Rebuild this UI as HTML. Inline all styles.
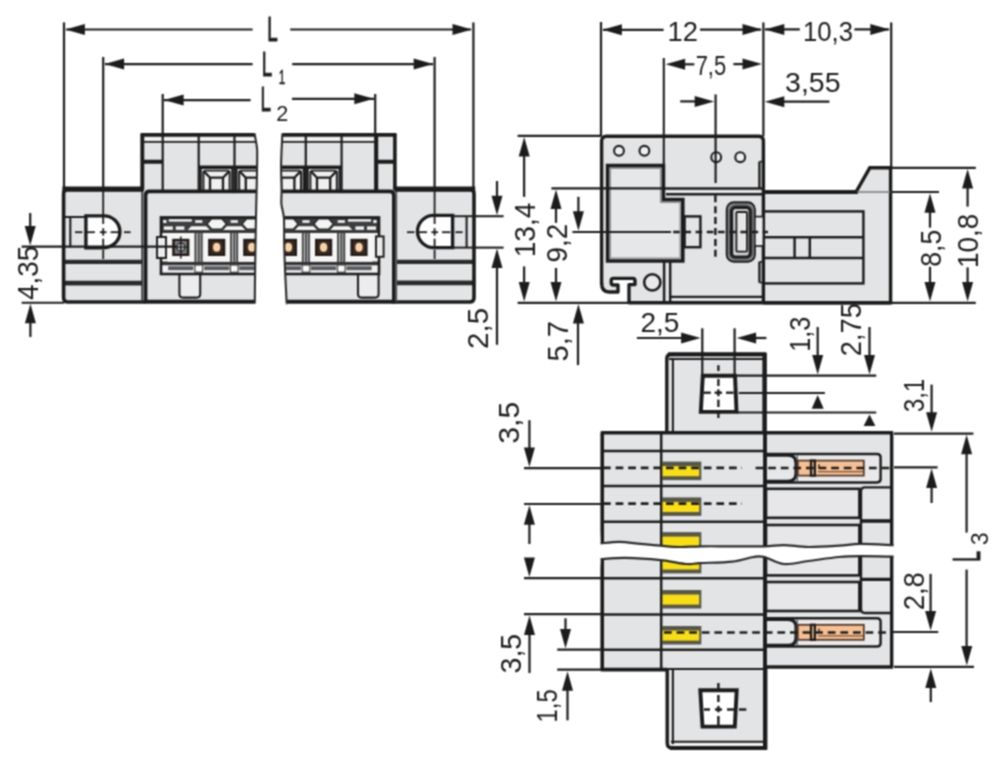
<!DOCTYPE html>
<html lang="en"><head><meta charset="utf-8"><title>Connector dimension drawing</title>
<style>html,body{margin:0;padding:0;background:#fff;}svg{display:block;}text{font-family:'Liberation Sans', 'DejaVu Sans', sans-serif;fill:#1c1c1c;}</style></head>
<body>
<svg width="1000" height="783" viewBox="0 0 1000 783">
<defs><filter id="soft" color-interpolation-filters="sRGB" x="0" y="0" width="1000" height="783" filterUnits="userSpaceOnUse"><feConvolveMatrix order="3" kernelMatrix="1 2 1 2 4 2 1 2 1" divisor="16" edgeMode="duplicate" preserveAlpha="true"/></filter></defs>
<rect x="0" y="0" width="1000" height="783" fill="#ffffff"/>
<g filter="url(#soft)">
<rect x="0" y="0" width="1000" height="783" fill="#ffffff"/>
<defs><clipPath id="c1l"><path d="M130 120 H254.6 L254.6 133.4 C255.4 140 257.4 146 257.2 152 C257.2 175 256.4 195 256 216 C255.6 240 255 265 254.8 303.4 V310 H130 Z"/></clipPath><clipPath id="c1r"><path d="M530 120 H282.4 L282.4 133.4 C282.18 138.5 281.23 154.57 281.1 164 C280.97 173.43 281.55 183.33 281.6 190 C281.65 196.67 281.02 199.33 281.4 204 C281.78 208.67 283.43 211.5 283.9 218 C284.37 224.5 284.02 234.5 284.2 243 C284.38 251.5 284.62 259.5 285 269 C285.38 278.5 286.23 294.27 286.5 300 C286.77 305.73 286.58 302.83 286.6 303.4 V310 H530 Z"/></clipPath></defs>
<rect x="63.6" y="189.4" width="82.4" height="112.6" rx="4" fill="#e3e4e6" stroke="none"/>
<rect x="392" y="189.4" width="82" height="112.6" rx="4" fill="#e3e4e6" stroke="none"/>
<g clip-path="url(#c1l)">
<rect x="143" y="136" width="127" height="56" rx="0" fill="#e3e4e6" stroke="none"/>
<rect x="146" y="191.5" width="124" height="110.3" rx="0" fill="#e3e4e6" stroke="none"/>
</g>
<g clip-path="url(#c1r)">
<rect x="270" y="136" width="125.3" height="56" rx="0" fill="#e3e4e6" stroke="none"/>
<rect x="270" y="191.5" width="122.6" height="110.3" rx="0" fill="#e3e4e6" stroke="none"/>
</g>
<line x1="65" y1="217" x2="86" y2="217" stroke="#1c1c1c" stroke-width="1.95" stroke-linecap="butt"/>
<line x1="70.3" y1="217" x2="70.3" y2="247.3" stroke="#1c1c1c" stroke-width="2.08" stroke-linecap="butt"/>
<path d="M85.9 215.9 H104 A15.9 15.9 0 0 1 104 247.7 H85.9 Z" fill="#fff" stroke="#1c1c1c" stroke-width="3.38" stroke-linejoin="miter" />
<line x1="65" y1="261.9" x2="142.6" y2="261.9" stroke="#2a2a2a" stroke-width="4.16" stroke-linecap="butt"/>
<line x1="65" y1="283.1" x2="142.6" y2="283.1" stroke="#2a2a2a" stroke-width="4.94" stroke-linecap="butt"/>
<path d="M142.4 189.4 H68 Q63.6 189.4 63.6 193.8 V297.8 Q63.6 302 68 302 H146" fill="none" stroke="#1c1c1c" stroke-width="3.64" stroke-linejoin="miter" />
<line x1="142.3" y1="190" x2="142.3" y2="302" stroke="#333" stroke-width="1.95" stroke-linecap="butt"/>
<line x1="62.4" y1="189.2" x2="143.6" y2="189.2" stroke="#1c1c1c" stroke-width="5.2" stroke-linecap="butt"/>
<line x1="75" y1="232.2" x2="82.4" y2="232.2" stroke="#1c1c1c" stroke-width="1.82" stroke-linecap="butt"/>
<line x1="85.7" y1="232.2" x2="94.9" y2="232.2" stroke="#1c1c1c" stroke-width="1.82" stroke-linecap="butt"/>
<line x1="99.9" y1="232.2" x2="106.5" y2="232.2" stroke="#1c1c1c" stroke-width="1.82" stroke-linecap="butt"/>
<line x1="110.6" y1="232.2" x2="119" y2="232.2" stroke="#1c1c1c" stroke-width="1.82" stroke-linecap="butt"/>
<line x1="124" y1="232.2" x2="130.6" y2="232.2" stroke="#1c1c1c" stroke-width="1.82" stroke-linecap="butt"/>
<line x1="103.2" y1="191" x2="103.2" y2="224" stroke="#1c1c1c" stroke-width="1.82" stroke-linecap="butt"/>
<line x1="103.2" y1="228.2" x2="103.2" y2="235.6" stroke="#1c1c1c" stroke-width="1.82" stroke-linecap="butt"/>
<line x1="103.2" y1="238.6" x2="103.2" y2="246.4" stroke="#1c1c1c" stroke-width="1.82" stroke-linecap="butt"/>
<line x1="103.2" y1="249.8" x2="103.2" y2="259" stroke="#1c1c1c" stroke-width="1.82" stroke-linecap="butt"/>
<line x1="452.6" y1="216.2" x2="473" y2="216.2" stroke="#1c1c1c" stroke-width="1.95" stroke-linecap="butt"/>
<line x1="452.6" y1="247.6" x2="473" y2="247.6" stroke="#1c1c1c" stroke-width="1.95" stroke-linecap="butt"/>
<line x1="466.6" y1="216.4" x2="466.6" y2="247.6" stroke="#1c1c1c" stroke-width="2.08" stroke-linecap="butt"/>
<path d="M452.6 215.4 H433.6 A16.1 16.1 0 0 0 433.6 247.6 H452.6 Z" fill="#fff" stroke="#1c1c1c" stroke-width="3.38" stroke-linejoin="miter" />
<line x1="396" y1="261.8" x2="473" y2="261.8" stroke="#2a2a2a" stroke-width="4.16" stroke-linecap="butt"/>
<line x1="396" y1="282.9" x2="473" y2="282.9" stroke="#2a2a2a" stroke-width="4.94" stroke-linecap="butt"/>
<path d="M396.4 189.4 H469.6 Q474 189.4 474 193.8 V297.8 Q474 302 469.6 302 H392" fill="none" stroke="#1c1c1c" stroke-width="3.64" stroke-linejoin="miter" />
<line x1="396.4" y1="190" x2="396.4" y2="302" stroke="#555" stroke-width="1.56" stroke-linecap="butt"/>
<line x1="394.4" y1="189.2" x2="475.2" y2="189.2" stroke="#1c1c1c" stroke-width="5.2" stroke-linecap="butt"/>
<line x1="407" y1="232.2" x2="414.4" y2="232.2" stroke="#1c1c1c" stroke-width="1.82" stroke-linecap="butt"/>
<line x1="417.6" y1="232.2" x2="427" y2="232.2" stroke="#1c1c1c" stroke-width="1.82" stroke-linecap="butt"/>
<line x1="431.4" y1="232.2" x2="438" y2="232.2" stroke="#1c1c1c" stroke-width="1.82" stroke-linecap="butt"/>
<line x1="442" y1="232.2" x2="450.4" y2="232.2" stroke="#1c1c1c" stroke-width="1.82" stroke-linecap="butt"/>
<line x1="455.4" y1="232.2" x2="462.6" y2="232.2" stroke="#1c1c1c" stroke-width="1.82" stroke-linecap="butt"/>
<line x1="434.6" y1="191" x2="434.6" y2="224" stroke="#1c1c1c" stroke-width="1.82" stroke-linecap="butt"/>
<line x1="434.6" y1="228.2" x2="434.6" y2="235.6" stroke="#1c1c1c" stroke-width="1.82" stroke-linecap="butt"/>
<line x1="434.6" y1="238.6" x2="434.6" y2="246.4" stroke="#1c1c1c" stroke-width="1.82" stroke-linecap="butt"/>
<line x1="434.6" y1="249.8" x2="434.6" y2="259" stroke="#1c1c1c" stroke-width="1.82" stroke-linecap="butt"/>
<g clip-path="url(#c1l)">
<rect x="143.6" y="136.4" width="116.4" height="4.8" rx="0" fill="#f0f0f1" stroke="none"/>
<line x1="140.8" y1="134.9" x2="260" y2="134.9" stroke="#1c1c1c" stroke-width="3.9" stroke-linecap="butt"/>
<line x1="143" y1="141.9" x2="260" y2="141.9" stroke="#1c1c1c" stroke-width="1.82" stroke-linecap="butt"/>
<line x1="142.3" y1="133.4" x2="142.3" y2="190" stroke="#1c1c1c" stroke-width="3.9" stroke-linecap="butt"/>
<line x1="143" y1="161.8" x2="162.7" y2="161.8" stroke="#1c1c1c" stroke-width="3.9" stroke-linecap="butt"/>
<line x1="162.7" y1="136" x2="162.7" y2="191" stroke="#1c1c1c" stroke-width="2.21" stroke-linecap="butt"/>
<line x1="198.7" y1="136" x2="198.7" y2="191" stroke="#1c1c1c" stroke-width="2.21" stroke-linecap="butt"/>
<line x1="234.5" y1="136" x2="234.5" y2="191" stroke="#1c1c1c" stroke-width="2.21" stroke-linecap="butt"/>
<rect x="200.6" y="167.3" width="31.8" height="26.7" rx="0" fill="#f0f0f1" stroke="none"/>
<line x1="198.7" y1="167.3" x2="234.5" y2="167.3" stroke="#1c1c1c" stroke-width="3.38" stroke-linecap="butt"/>
<line x1="200.6" y1="167.3" x2="200.6" y2="191" stroke="#1c1c1c" stroke-width="2.34" stroke-linecap="butt"/>
<line x1="232.4" y1="167.3" x2="232.4" y2="191" stroke="#1c1c1c" stroke-width="2.34" stroke-linecap="butt"/>
<path d="M203.4 191 V172.5 Q203.4 170.6 205.4 170.6 H227.6 Q229.6 170.6 229.6 172.5 V191" fill="none" stroke="#1c1c1c" stroke-width="1.95" stroke-linejoin="miter" />
<path d="M204.4 171.9 L210 177.7 H223 L228.6 171.9" fill="none" stroke="#1c1c1c" stroke-width="2.34" stroke-linejoin="miter" />
<line x1="210" y1="177.7" x2="210" y2="191" stroke="#1c1c1c" stroke-width="2.34" stroke-linecap="butt"/>
<line x1="223" y1="177.7" x2="223" y2="191" stroke="#1c1c1c" stroke-width="2.34" stroke-linecap="butt"/>
<rect x="236.4" y="167.3" width="31.8" height="26.7" rx="0" fill="#f0f0f1" stroke="none"/>
<line x1="234.5" y1="167.3" x2="270.3" y2="167.3" stroke="#1c1c1c" stroke-width="3.38" stroke-linecap="butt"/>
<line x1="236.4" y1="167.3" x2="236.4" y2="191" stroke="#1c1c1c" stroke-width="2.34" stroke-linecap="butt"/>
<line x1="268.2" y1="167.3" x2="268.2" y2="191" stroke="#1c1c1c" stroke-width="2.34" stroke-linecap="butt"/>
<path d="M239.2 191 V172.5 Q239.2 170.6 241.2 170.6 H263.4 Q265.4 170.6 265.4 172.5 V191" fill="none" stroke="#1c1c1c" stroke-width="1.95" stroke-linejoin="miter" />
<path d="M240.2 171.9 L245.8 177.7 H258.8 L264.4 171.9" fill="none" stroke="#1c1c1c" stroke-width="2.34" stroke-linejoin="miter" />
<line x1="245.8" y1="177.7" x2="245.8" y2="191" stroke="#1c1c1c" stroke-width="2.34" stroke-linecap="butt"/>
<line x1="258.8" y1="177.7" x2="258.8" y2="191" stroke="#1c1c1c" stroke-width="2.34" stroke-linecap="butt"/>
<path d="M260 191.4 H149.4 Q145.6 191.4 145.6 195.2 V301.8 H260" fill="none" stroke="#1c1c1c" stroke-width="3.64" stroke-linejoin="miter" />
<line x1="146" y1="301.6" x2="260" y2="301.6" stroke="#1c1c1c" stroke-width="3.64" stroke-linecap="butt"/>
<path d="M179.4 273 V294 Q179.4 297.6 183 297.6 H196.6 Q200.2 297.6 200.2 294 V273" fill="#ececee" stroke="#1c1c1c" stroke-width="2.08" stroke-linejoin="miter" />
</g>
<g clip-path="url(#c1l)">
<rect x="161" y="217.4" width="109" height="56.6" rx="0" fill="#f2f2f3" stroke="none"/>
<rect x="161" y="217.4" width="109" height="14.8" rx="0" fill="#3d3d3f" stroke="none"/>
<rect x="195.15" y="220.2" width="7.2" height="2.6" rx="0" fill="#f4f4f4" stroke="none"/>
<path d="M187.75 230 L191.25 226.2 H206.25 L209.75 230 Z" fill="#f4f4f4" stroke="none" />
<rect x="230.65" y="220.2" width="7.2" height="2.6" rx="0" fill="#f4f4f4" stroke="none"/>
<path d="M223.25 230 L226.75 226.2 H241.75 L245.25 230 Z" fill="#f4f4f4" stroke="none" />
<rect x="168.8" y="219.2" width="23" height="2.4" rx="0" fill="#f4f4f4" stroke="none"/>
<rect x="163.2" y="220" width="3.2" height="3" rx="0" fill="#f4f4f4" stroke="none"/>
<rect x="163.8" y="226.4" width="9" height="3.4" rx="0" fill="#f4f4f4" stroke="none"/>
<rect x="175.8" y="226.4" width="8.6" height="3.4" rx="0" fill="#f4f4f4" stroke="none"/>
<path d="M206.9 223.9 l4.8 -5.3 h10 l4.8 5.3 l-4.8 5.3 h-10 z" fill="#f4f4f4" stroke="#2a2a2a" stroke-width="1.56" stroke-linejoin="miter" />
<path d="M242 223.9 l4.8 -5.3 h10 l4.8 5.3 l-4.8 5.3 h-10 z" fill="#f4f4f4" stroke="#2a2a2a" stroke-width="1.56" stroke-linejoin="miter" />
<line x1="161" y1="263.4" x2="270" y2="263.4" stroke="#333" stroke-width="3.64" stroke-linecap="butt"/>
<rect x="168.2" y="266.2" width="25.2" height="4" rx="0" fill="#595c60" stroke="none"/>
<rect x="204.1" y="266.2" width="25.2" height="4" rx="0" fill="#595c60" stroke="none"/>
<rect x="239.2" y="266.2" width="25.2" height="4" rx="0" fill="#595c60" stroke="none"/>
<rect x="193.95" y="232.2" width="9.6" height="29.8" rx="0" fill="#c4c5c7" stroke="none"/>
<line x1="195.55" y1="232.2" x2="195.55" y2="262" stroke="#3a3a3a" stroke-width="1.69" stroke-linecap="butt"/>
<line x1="198.75" y1="232.2" x2="198.75" y2="262" stroke="#3a3a3a" stroke-width="1.69" stroke-linecap="butt"/>
<line x1="201.55" y1="232.2" x2="201.55" y2="262" stroke="#3a3a3a" stroke-width="1.69" stroke-linecap="butt"/>
<rect x="194.95" y="265" width="7.6" height="7.2" rx="0" fill="#fafafa" stroke="#444" stroke-width="1.17"/>
<rect x="229.45" y="232.2" width="9.6" height="29.8" rx="0" fill="#c4c5c7" stroke="none"/>
<line x1="231.05" y1="232.2" x2="231.05" y2="262" stroke="#3a3a3a" stroke-width="1.69" stroke-linecap="butt"/>
<line x1="234.25" y1="232.2" x2="234.25" y2="262" stroke="#3a3a3a" stroke-width="1.69" stroke-linecap="butt"/>
<line x1="237.05" y1="232.2" x2="237.05" y2="262" stroke="#3a3a3a" stroke-width="1.69" stroke-linecap="butt"/>
<rect x="230.45" y="265" width="7.6" height="7.2" rx="0" fill="#fafafa" stroke="#444" stroke-width="1.17"/>
<rect x="167.6" y="232.6" width="26.4" height="29.2" rx="0" fill="#f6f6f6" stroke="none"/>
<rect x="172.2" y="238.8" width="17.2" height="17.2" rx="0" fill="#241c18" stroke="none"/>
<rect x="174.8" y="241" width="12" height="12.6" rx="0" fill="#77777a" stroke="none"/>
<circle cx="180.8" cy="247.2" r="4" fill="#b9b9bb" stroke="#222" stroke-width="1.3"/>
<line x1="173.4" y1="247.2" x2="188.2" y2="247.2" stroke="#222" stroke-width="1.3" stroke-linecap="butt"/>
<line x1="180.8" y1="236.4" x2="180.8" y2="258.4" stroke="#222" stroke-width="1.56" stroke-linecap="butt"/>
<rect x="203.5" y="232.6" width="26.4" height="29.2" rx="0" fill="#f6f6f6" stroke="none"/>
<rect x="208.1" y="238.8" width="17.2" height="17.2" rx="0" fill="#241c18" stroke="none"/>
<rect x="210.7" y="241.2" width="12" height="12.4" rx="0" fill="#3b2a22" stroke="none"/>
<ellipse cx="216.7" cy="247.2" rx="3.7" ry="4.5" fill="#f8d3a8"/>
<rect x="238.6" y="232.6" width="26.4" height="29.2" rx="0" fill="#f6f6f6" stroke="none"/>
<rect x="243.2" y="238.8" width="17.2" height="17.2" rx="0" fill="#241c18" stroke="none"/>
<rect x="245.8" y="241.2" width="12" height="12.4" rx="0" fill="#3b2a22" stroke="none"/>
<ellipse cx="251.8" cy="247.2" rx="3.7" ry="4.5" fill="#f8d3a8"/>
<line x1="161" y1="232.4" x2="270" y2="232.4" stroke="#333" stroke-width="1.3" stroke-linecap="butt"/>
<rect x="161" y="217.4" width="109" height="56.6" rx="0" fill="none" stroke="#1c1c1c" stroke-width="2.6"/>
</g>
<rect x="157" y="237" width="9" height="21" rx="0" fill="#ececee" stroke="#1c1c1c" stroke-width="1.95"/>
<path d="M254.6 133.4 C255.4 140 257.4 146 257.2 152 C257.2 175 256.4 195 256 216 C255.6 240 255 265 254.8 303.4" fill="none" stroke="#2a2a2a" stroke-width="2.08" stroke-linejoin="miter" />
<g clip-path="url(#c1r)">
<rect x="270" y="136.4" width="107" height="4.8" rx="0" fill="#f0f0f1" stroke="none"/>
<line x1="270" y1="134.9" x2="396.3" y2="134.9" stroke="#1c1c1c" stroke-width="3.9" stroke-linecap="butt"/>
<line x1="270" y1="141.9" x2="377.1" y2="141.9" stroke="#1c1c1c" stroke-width="1.82" stroke-linecap="butt"/>
<line x1="394.9" y1="133.4" x2="394.9" y2="190" stroke="#1c1c1c" stroke-width="3.64" stroke-linecap="butt"/>
<line x1="377" y1="161.8" x2="395" y2="161.8" stroke="#1c1c1c" stroke-width="3.9" stroke-linecap="butt"/>
<line x1="377.1" y1="136" x2="377.1" y2="191" stroke="#1c1c1c" stroke-width="2.21" stroke-linecap="butt"/>
<line x1="341.6" y1="136" x2="341.6" y2="191" stroke="#1c1c1c" stroke-width="2.21" stroke-linecap="butt"/>
<line x1="305.8" y1="136" x2="305.8" y2="191" stroke="#1c1c1c" stroke-width="2.21" stroke-linecap="butt"/>
<rect x="307.6" y="167.3" width="32" height="26.7" rx="0" fill="#f0f0f1" stroke="none"/>
<line x1="305.8" y1="167.3" x2="341.6" y2="167.3" stroke="#1c1c1c" stroke-width="3.38" stroke-linecap="butt"/>
<line x1="307.6" y1="167.3" x2="307.6" y2="191" stroke="#1c1c1c" stroke-width="2.34" stroke-linecap="butt"/>
<line x1="339.6" y1="167.3" x2="339.6" y2="191" stroke="#1c1c1c" stroke-width="2.34" stroke-linecap="butt"/>
<path d="M310.4 191 V172.5 Q310.4 170.6 312.4 170.6 H334.8 Q336.8 170.6 336.8 172.5 V191" fill="none" stroke="#1c1c1c" stroke-width="1.95" stroke-linejoin="miter" />
<path d="M311.4 171.9 L317 177.7 H330.2 L335.8 171.9" fill="none" stroke="#1c1c1c" stroke-width="2.34" stroke-linejoin="miter" />
<line x1="317" y1="177.7" x2="317" y2="191" stroke="#1c1c1c" stroke-width="2.34" stroke-linecap="butt"/>
<line x1="330.2" y1="177.7" x2="330.2" y2="191" stroke="#1c1c1c" stroke-width="2.34" stroke-linecap="butt"/>
<rect x="271.8" y="167.3" width="32" height="26.7" rx="0" fill="#f0f0f1" stroke="none"/>
<line x1="270" y1="167.3" x2="305.8" y2="167.3" stroke="#1c1c1c" stroke-width="3.38" stroke-linecap="butt"/>
<line x1="271.8" y1="167.3" x2="271.8" y2="191" stroke="#1c1c1c" stroke-width="2.34" stroke-linecap="butt"/>
<line x1="303.8" y1="167.3" x2="303.8" y2="191" stroke="#1c1c1c" stroke-width="2.34" stroke-linecap="butt"/>
<path d="M274.6 191 V172.5 Q274.6 170.6 276.6 170.6 H299 Q301 170.6 301 172.5 V191" fill="none" stroke="#1c1c1c" stroke-width="1.95" stroke-linejoin="miter" />
<path d="M275.6 171.9 L281.2 177.7 H294.4 L300 171.9" fill="none" stroke="#1c1c1c" stroke-width="2.34" stroke-linejoin="miter" />
<line x1="281.2" y1="177.7" x2="281.2" y2="191" stroke="#1c1c1c" stroke-width="2.34" stroke-linecap="butt"/>
<line x1="294.4" y1="177.7" x2="294.4" y2="191" stroke="#1c1c1c" stroke-width="2.34" stroke-linecap="butt"/>
<path d="M270 191.4 H390 Q393.8 191.4 393.8 195.2 V301.8 H270" fill="none" stroke="#1c1c1c" stroke-width="3.64" stroke-linejoin="miter" />
<line x1="270" y1="301.6" x2="393" y2="301.6" stroke="#1c1c1c" stroke-width="3.64" stroke-linecap="butt"/>
<path d="M358 273 V294 Q358 297.6 361.6 297.6 H375 Q378.6 297.6 378.6 294 V273" fill="#ececee" stroke="#1c1c1c" stroke-width="2.08" stroke-linejoin="miter" />
</g>
<g clip-path="url(#c1r)">
<rect x="270" y="217.4" width="109" height="56.6" rx="0" fill="#f2f2f3" stroke="none"/>
<rect x="270" y="217.4" width="109" height="14.8" rx="0" fill="#3d3d3f" stroke="none"/>
<rect x="302.4" y="220.2" width="7.2" height="2.6" rx="0" fill="#f4f4f4" stroke="none"/>
<path d="M295 230 L298.5 226.2 H313.5 L317 230 Z" fill="#f4f4f4" stroke="none" />
<rect x="337.7" y="220.2" width="7.2" height="2.6" rx="0" fill="#f4f4f4" stroke="none"/>
<path d="M330.3 230 L333.8 226.2 H348.8 L352.3 230 Z" fill="#f4f4f4" stroke="none" />
<rect x="348" y="219.2" width="23" height="2.4" rx="0" fill="#f4f4f4" stroke="none"/>
<rect x="373.4" y="220" width="3.2" height="3" rx="0" fill="#f4f4f4" stroke="none"/>
<rect x="367" y="226.4" width="9" height="3.4" rx="0" fill="#f4f4f4" stroke="none"/>
<rect x="355.4" y="226.4" width="8.6" height="3.4" rx="0" fill="#f4f4f4" stroke="none"/>
<path d="M278.6 223.9 l4.8 -5.3 h10 l4.8 5.3 l-4.8 5.3 h-10 z" fill="#f4f4f4" stroke="#2a2a2a" stroke-width="1.56" stroke-linejoin="miter" />
<path d="M313.8 223.9 l4.8 -5.3 h10 l4.8 5.3 l-4.8 5.3 h-10 z" fill="#f4f4f4" stroke="#2a2a2a" stroke-width="1.56" stroke-linejoin="miter" />
<line x1="270" y1="263.4" x2="379" y2="263.4" stroke="#333" stroke-width="3.64" stroke-linecap="butt"/>
<rect x="275.8" y="266.2" width="25.2" height="4" rx="0" fill="#595c60" stroke="none"/>
<rect x="311" y="266.2" width="25.2" height="4" rx="0" fill="#595c60" stroke="none"/>
<rect x="346.4" y="266.2" width="25.2" height="4" rx="0" fill="#595c60" stroke="none"/>
<rect x="301.2" y="232.2" width="9.6" height="29.8" rx="0" fill="#c4c5c7" stroke="none"/>
<line x1="302.8" y1="232.2" x2="302.8" y2="262" stroke="#3a3a3a" stroke-width="1.69" stroke-linecap="butt"/>
<line x1="306" y1="232.2" x2="306" y2="262" stroke="#3a3a3a" stroke-width="1.69" stroke-linecap="butt"/>
<line x1="308.8" y1="232.2" x2="308.8" y2="262" stroke="#3a3a3a" stroke-width="1.69" stroke-linecap="butt"/>
<rect x="302.2" y="265" width="7.6" height="7.2" rx="0" fill="#fafafa" stroke="#444" stroke-width="1.17"/>
<rect x="336.5" y="232.2" width="9.6" height="29.8" rx="0" fill="#c4c5c7" stroke="none"/>
<line x1="338.1" y1="232.2" x2="338.1" y2="262" stroke="#3a3a3a" stroke-width="1.69" stroke-linecap="butt"/>
<line x1="341.3" y1="232.2" x2="341.3" y2="262" stroke="#3a3a3a" stroke-width="1.69" stroke-linecap="butt"/>
<line x1="344.1" y1="232.2" x2="344.1" y2="262" stroke="#3a3a3a" stroke-width="1.69" stroke-linecap="butt"/>
<rect x="337.5" y="265" width="7.6" height="7.2" rx="0" fill="#fafafa" stroke="#444" stroke-width="1.17"/>
<rect x="275.2" y="232.6" width="26.4" height="29.2" rx="0" fill="#f6f6f6" stroke="none"/>
<rect x="279.8" y="238.8" width="17.2" height="17.2" rx="0" fill="#241c18" stroke="none"/>
<rect x="282.4" y="241.2" width="12" height="12.4" rx="0" fill="#3b2a22" stroke="none"/>
<ellipse cx="288.4" cy="247.2" rx="3.7" ry="4.5" fill="#f8d3a8"/>
<rect x="310.4" y="232.6" width="26.4" height="29.2" rx="0" fill="#f6f6f6" stroke="none"/>
<rect x="315" y="238.8" width="17.2" height="17.2" rx="0" fill="#241c18" stroke="none"/>
<rect x="317.6" y="241.2" width="12" height="12.4" rx="0" fill="#3b2a22" stroke="none"/>
<ellipse cx="323.6" cy="247.2" rx="3.7" ry="4.5" fill="#f8d3a8"/>
<rect x="345.8" y="232.6" width="26.4" height="29.2" rx="0" fill="#f6f6f6" stroke="none"/>
<rect x="350.4" y="238.8" width="17.2" height="17.2" rx="0" fill="#241c18" stroke="none"/>
<rect x="353" y="241.2" width="12" height="12.4" rx="0" fill="#3b2a22" stroke="none"/>
<ellipse cx="359" cy="247.2" rx="3.7" ry="4.5" fill="#f8d3a8"/>
<line x1="270" y1="232.4" x2="379" y2="232.4" stroke="#333" stroke-width="1.3" stroke-linecap="butt"/>
<rect x="270" y="217.4" width="109" height="56.6" rx="0" fill="none" stroke="#1c1c1c" stroke-width="2.6"/>
</g>
<rect x="376" y="236.4" width="7.6" height="20.4" rx="0" fill="#ececee" stroke="#1c1c1c" stroke-width="1.95"/>
<path d="M282.4 133.4 C282.18 138.5 281.23 154.57 281.1 164 C280.97 173.43 281.55 183.33 281.6 190 C281.65 196.67 281.02 199.33 281.4 204 C281.78 208.67 283.43 211.5 283.9 218 C284.37 224.5 284.02 234.5 284.2 243 C284.38 251.5 284.62 259.5 285 269 C285.38 278.5 286.23 294.27 286.5 300 C286.77 305.73 286.58 302.83 286.6 303.4" fill="none" stroke="#2a2a2a" stroke-width="2.08" stroke-linejoin="miter" />
<line x1="64" y1="22.4" x2="64" y2="189" stroke="#1c1c1c" stroke-width="2.21" stroke-linecap="butt"/>
<line x1="473.4" y1="22.4" x2="473.4" y2="189" stroke="#1c1c1c" stroke-width="2.21" stroke-linecap="butt"/>
<line x1="66" y1="29.5" x2="252.6" y2="29.5" stroke="#1c1c1c" stroke-width="2.21" stroke-linecap="butt"/>
<line x1="290.2" y1="29.5" x2="471" y2="29.5" stroke="#1c1c1c" stroke-width="2.21" stroke-linecap="butt"/>
<polygon points="65.4,29.5 84.9,24 84.9,35" fill="#1c1c1c"/>
<polygon points="472,29.5 452.5,24 452.5,35" fill="#1c1c1c"/>
<line x1="103.2" y1="57" x2="103.2" y2="191" stroke="#1c1c1c" stroke-width="2.21" stroke-linecap="butt"/>
<line x1="434.6" y1="57" x2="434.6" y2="191" stroke="#1c1c1c" stroke-width="2.21" stroke-linecap="butt"/>
<line x1="105" y1="64.1" x2="252.6" y2="64.1" stroke="#1c1c1c" stroke-width="2.21" stroke-linecap="butt"/>
<line x1="292.2" y1="64.1" x2="433" y2="64.1" stroke="#1c1c1c" stroke-width="2.21" stroke-linecap="butt"/>
<polygon points="104.6,64.1 124.1,58.6 124.1,69.6" fill="#1c1c1c"/>
<polygon points="433.2,64.1 413.7,58.6 413.7,69.6" fill="#1c1c1c"/>
<line x1="162.7" y1="94" x2="162.7" y2="137" stroke="#1c1c1c" stroke-width="2.21" stroke-linecap="butt"/>
<line x1="375.2" y1="94" x2="375.2" y2="190" stroke="#1c1c1c" stroke-width="2.21" stroke-linecap="butt"/>
<line x1="164" y1="100.1" x2="250.6" y2="100.1" stroke="#1c1c1c" stroke-width="2.21" stroke-linecap="butt"/>
<line x1="292" y1="98.8" x2="374" y2="98.8" stroke="#1c1c1c" stroke-width="2.21" stroke-linecap="butt"/>
<polygon points="164.1,100.1 183.6,94.6 183.6,105.6" fill="#1c1c1c"/>
<polygon points="373.8,98.8 354.3,93.3 354.3,104.3" fill="#1c1c1c"/>
<text x="267.35" y="41.1" font-size="35.6" text-anchor="start" textLength="10.5" lengthAdjust="spacingAndGlyphs" stroke="#1c1c1c" stroke-width="0.9">L</text>
<text x="261.75" y="75.5" font-size="35.6" text-anchor="start" textLength="10.5" lengthAdjust="spacingAndGlyphs" stroke="#1c1c1c" stroke-width="0.9">L</text>
<text x="282" y="84" font-size="20.4" text-anchor="middle" textLength="6.6" lengthAdjust="spacingAndGlyphs" stroke="#1c1c1c" stroke-width="0.5">1</text>
<text x="260.45" y="111.2" font-size="35.6" text-anchor="start" textLength="10.5" lengthAdjust="spacingAndGlyphs" stroke="#1c1c1c" stroke-width="0.9">L</text>
<text x="282.2" y="120.8" font-size="22.4" text-anchor="middle" textLength="12" lengthAdjust="spacingAndGlyphs">2</text>
<line x1="21.6" y1="246.6" x2="176" y2="246.6" stroke="#1c1c1c" stroke-width="2.08" stroke-linecap="butt"/>
<line x1="21.6" y1="302.8" x2="64" y2="302.8" stroke="#1c1c1c" stroke-width="2.08" stroke-linecap="butt"/>
<line x1="30.2" y1="213" x2="30.2" y2="232" stroke="#1c1c1c" stroke-width="2.21" stroke-linecap="butt"/>
<polygon points="30.2,245.4 24.7,225.9 35.7,225.9" fill="#1c1c1c"/>
<line x1="30.4" y1="318" x2="30.4" y2="337" stroke="#1c1c1c" stroke-width="2.21" stroke-linecap="butt"/>
<polygon points="30.4,303.8 24.9,323.3 35.9,323.3" fill="#1c1c1c"/>
<text x="38.2" y="272.9" font-size="30" text-anchor="middle" transform="rotate(-90 38.2 272.9)" textLength="54.3" lengthAdjust="spacingAndGlyphs">4,35</text>
<line x1="474.6" y1="216.2" x2="503.6" y2="216.2" stroke="#1c1c1c" stroke-width="2.08" stroke-linecap="butt"/>
<line x1="474.6" y1="247.6" x2="503.6" y2="247.6" stroke="#1c1c1c" stroke-width="2.08" stroke-linecap="butt"/>
<line x1="497" y1="181" x2="497" y2="200" stroke="#1c1c1c" stroke-width="2.21" stroke-linecap="butt"/>
<polygon points="497,215.2 491.5,195.7 502.5,195.7" fill="#1c1c1c"/>
<line x1="497" y1="262" x2="497" y2="344.8" stroke="#1c1c1c" stroke-width="2.21" stroke-linecap="butt"/>
<polygon points="497,248.6 491.5,268.1 502.5,268.1" fill="#1c1c1c"/>
<text x="487.9" y="328.4" font-size="30" text-anchor="middle" transform="rotate(-90 487.9 328.4)" textLength="41" lengthAdjust="spacingAndGlyphs">2,5</text>
<path d="M601.6 141.2 Q601.6 136.2 606.6 136.2 H758.4 Q763.4 136.2 763.4 141.2 V192 H856 L869.8 167.8 H890.6 V302.8 H629 V284.6 H635 V278.4 H611.2 V285 H618 V292 H608.6 Q601.6 292 601.6 284 Z" fill="#e3e4e6" stroke="none" />
<path d="M763.4 192 H856 L869.8 167.8 H890.6 V302.8 H763.4" fill="none" stroke="#1c1c1c" stroke-width="3.38" stroke-linejoin="miter" />
<line x1="763.4" y1="192" x2="858" y2="192" stroke="#1c1c1c" stroke-width="3.9" stroke-linecap="butt"/>
<line x1="857" y1="192" x2="890.6" y2="192" stroke="#777" stroke-width="1.3" stroke-linecap="butt"/>
<rect x="763.4" y="211.4" width="100" height="72" rx="0" fill="none" stroke="#1c1c1c" stroke-width="2.47"/>
<line x1="763.4" y1="237.2" x2="863.4" y2="237.2" stroke="#1c1c1c" stroke-width="2.47" stroke-linecap="butt"/>
<line x1="763.4" y1="257.9" x2="863.4" y2="257.9" stroke="#1c1c1c" stroke-width="2.47" stroke-linecap="butt"/>
<line x1="794.6" y1="237.2" x2="794.6" y2="257.9" stroke="#1c1c1c" stroke-width="2.47" stroke-linecap="butt"/>
<line x1="809.8" y1="237.2" x2="809.8" y2="257.9" stroke="#1c1c1c" stroke-width="2.47" stroke-linecap="butt"/>
<path d="M601.6 284 V141.2 Q601.6 136.2 606.6 136.2 H758.4 Q763.4 136.2 763.4 141.2 V302.8" fill="none" stroke="#1c1c1c" stroke-width="3.38" stroke-linejoin="miter" />
<path d="M601.6 283 Q601.6 292 609 292 H618 V285 H613.4 Q611.2 285 611.2 282.8 V280.6 Q611.2 278.4 613.4 278.4 H632.8 Q635 278.4 635 280.6 V284.6 H629 V302.8 H890.6" fill="none" stroke="#1c1c1c" stroke-width="3.38" stroke-linejoin="round" />
<line x1="663.6" y1="188.6" x2="763.4" y2="188.6" stroke="#1c1c1c" stroke-width="2.47" stroke-linecap="butt"/>
<line x1="666" y1="194.2" x2="763.4" y2="194.2" stroke="#1c1c1c" stroke-width="2.47" stroke-linecap="butt"/>
<path d="M607.6 165.6 H663.4 V199.6 H682.8 V261 H607.6 Z" fill="#e6e7e9" stroke="#1c1c1c" stroke-width="3.64" stroke-linejoin="miter" />
<path d="M610.4 168.4 H660.6 V202.4 H680 V258.2 H610.4 Z" fill="none" stroke="#8a8a8c" stroke-width="1.17" stroke-linejoin="miter" />
<circle cx="619" cy="150.8" r="4.9" fill="#f0f0f2" stroke="#1c1c1c" stroke-width="2.08"/>
<circle cx="644.4" cy="150.8" r="4.9" fill="#f0f0f2" stroke="#1c1c1c" stroke-width="2.08"/>
<circle cx="716.2" cy="157.2" r="4.9" fill="#f0f0f2" stroke="#1c1c1c" stroke-width="2.08"/>
<circle cx="740.2" cy="157.2" r="4.9" fill="#f0f0f2" stroke="#1c1c1c" stroke-width="2.08"/>
<circle cx="652.3" cy="282.4" r="8.1" fill="#e9e9eb" stroke="#1c1c1c" stroke-width="2.6"/>
<rect x="684.6" y="216.4" width="15.8" height="30.8" rx="0" fill="none" stroke="#1c1c1c" stroke-width="2.47"/>
<line x1="664.1" y1="261" x2="664.1" y2="302.8" stroke="#1c1c1c" stroke-width="2.47" stroke-linecap="butt"/>
<line x1="670.2" y1="261" x2="670.2" y2="302.8" stroke="#1c1c1c" stroke-width="2.47" stroke-linecap="butt"/>
<line x1="670" y1="296.8" x2="763.4" y2="296.8" stroke="#1c1c1c" stroke-width="2.34" stroke-linecap="butt"/>
<line x1="759.4" y1="161.6" x2="759.4" y2="188" stroke="#1c1c1c" stroke-width="2.34" stroke-linecap="butt"/>
<line x1="759.4" y1="161.6" x2="763.4" y2="161.6" stroke="#1c1c1c" stroke-width="1.56" stroke-linecap="butt"/>
<line x1="759.4" y1="261.8" x2="759.4" y2="282.6" stroke="#1c1c1c" stroke-width="2.34" stroke-linecap="butt"/>
<line x1="759.4" y1="261.8" x2="763.4" y2="261.8" stroke="#1c1c1c" stroke-width="1.56" stroke-linecap="butt"/>
<line x1="759.4" y1="282.6" x2="763.4" y2="282.6" stroke="#1c1c1c" stroke-width="1.56" stroke-linecap="butt"/>
<rect x="726.8" y="202.4" width="28" height="59.2" rx="7" fill="#b4b5b7" stroke="#1c1c1c" stroke-width="2.08"/>
<rect x="729.2" y="204.8" width="23.2" height="54.4" rx="5.5" fill="#a6a7aa" stroke="#555" stroke-width="1.3"/>
<rect x="731.6" y="207.4" width="18.6" height="49.6" rx="3.6" fill="#cfd0d2" stroke="#1c1c1c" stroke-width="3.12"/>
<rect x="736.4" y="212" width="10.6" height="39.6" rx="1" fill="#e6e6e8" stroke="#1c1c1c" stroke-width="1.82"/>
<rect x="754.8" y="216.6" width="8.6" height="29.4" rx="0" fill="#ececee" stroke="#1c1c1c" stroke-width="1.69"/>
<line x1="715.6" y1="94.4" x2="715.6" y2="183" stroke="#1c1c1c" stroke-width="2.21" stroke-linecap="butt"/>
<line x1="715.4" y1="195.3" x2="715.4" y2="258" stroke="#1c1c1c" stroke-width="2.47" stroke-linecap="butt" stroke-dasharray="7 3.9"/>
<line x1="572.4" y1="232" x2="671" y2="232" stroke="#1c1c1c" stroke-width="2.21" stroke-linecap="butt"/>
<line x1="673.2" y1="232" x2="768" y2="232" stroke="#1c1c1c" stroke-width="2.47" stroke-linecap="butt" stroke-dasharray="6.6 4.6"/>
<line x1="663.8" y1="58" x2="663.8" y2="199" stroke="#1c1c1c" stroke-width="2.08" stroke-linecap="butt"/>
<line x1="601" y1="22" x2="601" y2="136.2" stroke="#1c1c1c" stroke-width="2.21" stroke-linecap="butt"/>
<line x1="763.4" y1="22.4" x2="763.4" y2="136.2" stroke="#1c1c1c" stroke-width="2.21" stroke-linecap="butt"/>
<line x1="603" y1="29.8" x2="663.6" y2="29.8" stroke="#1c1c1c" stroke-width="2.21" stroke-linecap="butt"/>
<line x1="700" y1="29.6" x2="761" y2="29.6" stroke="#1c1c1c" stroke-width="2.21" stroke-linecap="butt"/>
<polygon points="602.4,29.8 621.9,24.3 621.9,35.3" fill="#1c1c1c"/>
<polygon points="762,29.6 742.5,24.1 742.5,35.1" fill="#1c1c1c"/>
<text x="682.8" y="41.3" font-size="28.5" text-anchor="middle" textLength="30.5" lengthAdjust="spacingAndGlyphs">12</text>
<line x1="891.2" y1="22.4" x2="891.2" y2="168" stroke="#1c1c1c" stroke-width="2.21" stroke-linecap="butt"/>
<line x1="765" y1="29.4" x2="799.8" y2="29.4" stroke="#1c1c1c" stroke-width="2.21" stroke-linecap="butt"/>
<line x1="854.4" y1="29.4" x2="889" y2="29.4" stroke="#1c1c1c" stroke-width="2.21" stroke-linecap="butt"/>
<polygon points="764.8,29.4 784.3,23.9 784.3,34.9" fill="#1c1c1c"/>
<polygon points="889.8,29.4 870.3,23.9 870.3,34.9" fill="#1c1c1c"/>
<text x="828" y="40.6" font-size="28.5" text-anchor="middle" textLength="50" lengthAdjust="spacingAndGlyphs">10,3</text>
<line x1="683" y1="64.3" x2="694.3" y2="64.3" stroke="#1c1c1c" stroke-width="2.21" stroke-linecap="butt"/>
<line x1="733.4" y1="64.1" x2="745" y2="64.1" stroke="#1c1c1c" stroke-width="2.21" stroke-linecap="butt"/>
<polygon points="665.6,64.3 685.1,58.8 685.1,69.8" fill="#1c1c1c"/>
<polygon points="762,64.1 742.5,58.6 742.5,69.6" fill="#1c1c1c"/>
<text x="710.9" y="75" font-size="28.5" text-anchor="middle" textLength="30.5" lengthAdjust="spacingAndGlyphs">7,5</text>
<line x1="680.2" y1="101.4" x2="698" y2="101.4" stroke="#1c1c1c" stroke-width="2.21" stroke-linecap="butt"/>
<polygon points="714.2,101.4 694.7,95.9 694.7,106.9" fill="#1c1c1c"/>
<line x1="782" y1="101.7" x2="829.4" y2="101.7" stroke="#1c1c1c" stroke-width="2.21" stroke-linecap="butt"/>
<polygon points="764.8,101.7 784.3,96.2 784.3,107.2" fill="#1c1c1c"/>
<text x="812.8" y="92.2" font-size="28" text-anchor="middle" textLength="55.5" lengthAdjust="spacingAndGlyphs">3,55</text>
<line x1="517.6" y1="135.8" x2="601" y2="135.8" stroke="#1c1c1c" stroke-width="2.21" stroke-linecap="butt"/>
<line x1="517.6" y1="302.8" x2="629.4" y2="302.8" stroke="#1c1c1c" stroke-width="2.21" stroke-linecap="butt"/>
<line x1="551.4" y1="188.3" x2="663" y2="188.3" stroke="#1c1c1c" stroke-width="2.21" stroke-linecap="butt"/>
<line x1="524.1" y1="153" x2="524.1" y2="196.9" stroke="#1c1c1c" stroke-width="2.21" stroke-linecap="butt"/>
<polygon points="524.2,137 518.7,156.5 529.7,156.5" fill="#1c1c1c"/>
<line x1="524.1" y1="266.4" x2="524.1" y2="285" stroke="#1c1c1c" stroke-width="2.21" stroke-linecap="butt"/>
<polygon points="524.2,301.6 518.7,282.1 529.7,282.1" fill="#1c1c1c"/>
<text x="535" y="229.9" font-size="30" text-anchor="middle" transform="rotate(-90 535 229.9)" textLength="54.7" lengthAdjust="spacingAndGlyphs">13,4</text>
<line x1="556" y1="206" x2="556" y2="222.8" stroke="#1c1c1c" stroke-width="2.21" stroke-linecap="butt"/>
<polygon points="556,189.4 550.5,208.9 561.5,208.9" fill="#1c1c1c"/>
<line x1="556" y1="268" x2="556" y2="285" stroke="#1c1c1c" stroke-width="2.21" stroke-linecap="butt"/>
<polygon points="556,301.6 550.5,282.1 561.5,282.1" fill="#1c1c1c"/>
<text x="566.7" y="243.2" font-size="30" text-anchor="middle" transform="rotate(-90 566.7 243.2)" textLength="38.8" lengthAdjust="spacingAndGlyphs">9,2</text>
<line x1="578.4" y1="196.8" x2="578.4" y2="214" stroke="#1c1c1c" stroke-width="2.21" stroke-linecap="butt"/>
<polygon points="578.4,230.8 572.9,211.3 583.9,211.3" fill="#1c1c1c"/>
<line x1="578" y1="320" x2="578" y2="365.1" stroke="#1c1c1c" stroke-width="2.21" stroke-linecap="butt"/>
<polygon points="578.4,304 572.9,323.5 583.9,323.5" fill="#1c1c1c"/>
<text x="568.4" y="341.3" font-size="30" text-anchor="middle" transform="rotate(-90 568.4 341.3)" textLength="40.3" lengthAdjust="spacingAndGlyphs">5,7</text>
<line x1="890.6" y1="167.8" x2="975.8" y2="167.8" stroke="#1c1c1c" stroke-width="2.21" stroke-linecap="butt"/>
<line x1="890.6" y1="192" x2="939" y2="192" stroke="#1c1c1c" stroke-width="2.21" stroke-linecap="butt"/>
<line x1="890.6" y1="302.8" x2="975.8" y2="302.8" stroke="#1c1c1c" stroke-width="2.21" stroke-linecap="butt"/>
<line x1="930" y1="209" x2="930" y2="227.6" stroke="#1c1c1c" stroke-width="2.21" stroke-linecap="butt"/>
<polygon points="930,193.2 924.5,212.7 935.5,212.7" fill="#1c1c1c"/>
<line x1="930" y1="266.8" x2="930" y2="285" stroke="#1c1c1c" stroke-width="2.21" stroke-linecap="butt"/>
<polygon points="930,301.6 924.5,282.1 935.5,282.1" fill="#1c1c1c"/>
<text x="941.2" y="248.2" font-size="30" text-anchor="middle" transform="rotate(-90 941.2 248.2)" textLength="37" lengthAdjust="spacingAndGlyphs">8,5</text>
<line x1="967.6" y1="185" x2="967.6" y2="206.6" stroke="#1c1c1c" stroke-width="2.21" stroke-linecap="butt"/>
<polygon points="967.6,169 962.1,188.5 973.1,188.5" fill="#1c1c1c"/>
<line x1="967.6" y1="267.4" x2="967.6" y2="285" stroke="#1c1c1c" stroke-width="2.21" stroke-linecap="butt"/>
<polygon points="967.6,301.6 962.1,282.1 973.1,282.1" fill="#1c1c1c"/>
<text x="978.2" y="240.8" font-size="30" text-anchor="middle" transform="rotate(-90 978.2 240.8)" textLength="54.2" lengthAdjust="spacingAndGlyphs">10,8</text>
<defs><clipPath id="c3t"><path d="M600.6 543.4 C603.73 543.13 612.72 541.72 619.4 541.8 C626.08 541.88 633.83 543.25 640.7 543.9 C647.57 544.55 653.98 545.18 660.6 545.7 C667.22 546.22 673.8 546.9 680.4 547 C687 547.1 691.57 546.42 700.2 546.3 C708.83 546.18 721.52 546.3 732.2 546.3 C742.88 546.3 755.67 546.5 764.3 546.3 C772.93 546.1 776.63 544.98 784 545.1 C791.37 545.22 799.33 546.9 808.5 547 C817.67 547.1 830.37 546.22 839 545.7 C847.63 545.18 851.2 544 860.3 543.9 C869.4 543.8 888.05 544.9 893.6 545.1 V300 H590 Z"/></clipPath><clipPath id="c3b"><path d="M600.6 559.2 C604.75 558.98 615.5 557.75 625.5 557.9 C635.5 558.05 650.43 559.08 660.6 560.1 C670.77 561.12 679.9 563.5 686.5 564 C693.1 564.5 692.58 563.5 700.2 563.1 C707.82 562.7 723.3 562.62 732.2 561.6 C741.1 560.58 748.25 557.77 753.6 557 C758.95 556.23 759.23 555.83 764.3 557 C769.37 558.17 776.63 563.33 784 564 C791.37 564.67 799.33 562.17 808.5 561 C817.67 559.83 830.37 557.82 839 557 C847.63 556.18 851.2 556.15 860.3 556.1 C869.4 556.05 888.05 556.6 893.6 556.7 V720 H590 Z"/></clipPath></defs>
<rect x="666.8" y="354.4" width="98" height="79.6" rx="4" fill="#e3e4e6" stroke="none"/>
<rect x="674" y="355.8" width="89" height="2.6" rx="0" fill="#f1f1f2" stroke="none"/>
<path d="M666.8 433 V358.4 Q666.8 354.4 670.8 354.4 H764.6 V433" fill="none" stroke="#1c1c1c" stroke-width="3.38" stroke-linejoin="miter" />
<line x1="668" y1="354.4" x2="766.2" y2="354.4" stroke="#1c1c1c" stroke-width="4.42" stroke-linecap="butt"/>
<line x1="764.6" y1="353" x2="764.6" y2="433" stroke="#1c1c1c" stroke-width="4.42" stroke-linecap="butt"/>
<line x1="672.9" y1="359" x2="672.9" y2="433" stroke="#1c1c1c" stroke-width="2.08" stroke-linecap="butt"/>
<line x1="669" y1="359" x2="764" y2="359" stroke="#1c1c1c" stroke-width="2.08" stroke-linecap="butt"/>
<path d="M702.8 375.8 H735 L736.5 411.9 H700.8 Z" fill="#fff" stroke="#1c1c1c" stroke-width="3.9" stroke-linejoin="miter" />
<rect x="667.2" y="668" width="97.8" height="80" rx="4" fill="#e3e4e6" stroke="none"/>
<rect x="674" y="742.6" width="89.6" height="4.2" rx="0" fill="#f1f1f2" stroke="none"/>
<path d="M667.2 668 V743 Q667.2 748 672.2 748 H765.2 V666" fill="none" stroke="#1c1c1c" stroke-width="3.38" stroke-linejoin="miter" />
<line x1="765.2" y1="666" x2="765.2" y2="749.6" stroke="#1c1c1c" stroke-width="4.42" stroke-linecap="butt"/>
<line x1="670" y1="748" x2="766.8" y2="748" stroke="#1c1c1c" stroke-width="4.16" stroke-linecap="butt"/>
<line x1="672.9" y1="668" x2="672.9" y2="744" stroke="#1c1c1c" stroke-width="2.08" stroke-linecap="butt"/>
<line x1="671" y1="741.7" x2="764" y2="741.7" stroke="#1c1c1c" stroke-width="2.08" stroke-linecap="butt"/>
<path d="M700.3 690.3 H736.7 L734.8 726.6 H702.5 Z" fill="#fff" stroke="#1c1c1c" stroke-width="3.9" stroke-linejoin="miter" />
<g clip-path="url(#c3t)">
<rect x="602.2" y="432.8" width="289.6" height="127.2" rx="0" fill="#e3e4e6" stroke="none"/>
<line x1="602.2" y1="450.9" x2="765" y2="450.9" stroke="#1c1c1c" stroke-width="2.47" stroke-linecap="butt"/>
<line x1="602.2" y1="486" x2="765" y2="486" stroke="#1c1c1c" stroke-width="2.47" stroke-linecap="butt"/>
<line x1="602.2" y1="521.8" x2="765" y2="521.8" stroke="#1c1c1c" stroke-width="2.47" stroke-linecap="butt"/>
<line x1="661.2" y1="432.8" x2="661.2" y2="560" stroke="#1c1c1c" stroke-width="2.47" stroke-linecap="butt"/>
<rect x="661.9" y="461.6" width="39.4" height="18.5" rx="0" fill="#56564e" stroke="none"/>
<rect x="662.6" y="466.1" width="36.6" height="10.1" rx="0" fill="#f8de12" stroke="none"/>
<rect x="661.9" y="497.4" width="39.4" height="18.5" rx="0" fill="#56564e" stroke="none"/>
<rect x="662.6" y="501.9" width="36.6" height="10.1" rx="0" fill="#f8de12" stroke="none"/>
<rect x="661.9" y="532.1" width="39.4" height="18.5" rx="0" fill="#56564e" stroke="none"/>
<rect x="662.6" y="536.6" width="36.6" height="10.1" rx="0" fill="#f8de12" stroke="none"/>
<path d="M765.4 454 H877 Q880.6 454 880.6 457.6 V478.8 Q880.6 482.4 877 482.4 H765.4" fill="#e9e9eb" stroke="#1c1c1c" stroke-width="2.47" stroke-linejoin="miter" />
<path d="M765.4 455.2 H788 Q796 455.2 796 463.2 V473.2 Q796 481.2 788 481.2 H765.4" fill="#e6e7e9" stroke="#1c1c1c" stroke-width="3.12" stroke-linejoin="miter" />
<line x1="797.2" y1="454.6" x2="797.2" y2="481.8" stroke="#456" stroke-width="1.3" stroke-linecap="butt"/>
<rect x="797.8" y="460.6" width="66" height="15" rx="0" fill="#f6c094" stroke="#4a3424" stroke-width="1.69"/>
<rect x="811" y="460.6" width="3.8" height="15" rx="0" fill="#e9c8a6" stroke="#1f1a16" stroke-width="2.34"/>
<line x1="818" y1="471.6" x2="863" y2="471.6" stroke="#7a5030" stroke-width="1.3" stroke-linecap="butt"/>
<line x1="819" y1="464.2" x2="819" y2="468.2" stroke="#4a3424" stroke-width="1.56" stroke-linecap="butt"/>
<rect x="766" y="488.8" width="93.4" height="29" rx="0" fill="#e7e7e9" stroke="#1c1c1c" stroke-width="2.6"/>
<rect x="766" y="525" width="93.4" height="28" rx="0" fill="#e7e7e9" stroke="#1c1c1c" stroke-width="2.6"/>
<path d="M891 487.4 H865 Q861 487.4 861 491.4 V521 H891" fill="#e6e7e9" stroke="#1c1c1c" stroke-width="2.34" stroke-linejoin="miter" />
<line x1="861" y1="521" x2="891" y2="521" stroke="#1c1c1c" stroke-width="3.38" stroke-linecap="butt"/>
<line x1="861" y1="521" x2="861" y2="560" stroke="#1c1c1c" stroke-width="2.34" stroke-linecap="butt"/>
<line x1="765" y1="432.8" x2="765" y2="560" stroke="#1c1c1c" stroke-width="3.9" stroke-linecap="butt"/>
<line x1="602.2" y1="432.8" x2="602.2" y2="560" stroke="#1c1c1c" stroke-width="3.64" stroke-linecap="butt"/>
<line x1="891.8" y1="432.8" x2="891.8" y2="560" stroke="#1c1c1c" stroke-width="3.64" stroke-linecap="butt"/>
<line x1="600.8" y1="432.8" x2="893.2" y2="432.8" stroke="#1c1c1c" stroke-width="3.64" stroke-linecap="butt"/>
</g>
<path d="M600.6 543.4 C603.73 543.13 612.72 541.72 619.4 541.8 C626.08 541.88 633.83 543.25 640.7 543.9 C647.57 544.55 653.98 545.18 660.6 545.7 C667.22 546.22 673.8 546.9 680.4 547 C687 547.1 691.57 546.42 700.2 546.3 C708.83 546.18 721.52 546.3 732.2 546.3 C742.88 546.3 755.67 546.5 764.3 546.3 C772.93 546.1 776.63 544.98 784 545.1 C791.37 545.22 799.33 546.9 808.5 547 C817.67 547.1 830.37 546.22 839 545.7 C847.63 545.18 851.2 544 860.3 543.9 C869.4 543.8 888.05 544.9 893.6 545.1" fill="none" stroke="#2a2a2a" stroke-width="2.21" stroke-linejoin="miter" />
<g clip-path="url(#c3b)">
<rect x="602.2" y="540" width="162.8" height="129.6" rx="0" fill="#e3e4e6" stroke="none"/>
<rect x="765" y="540" width="126.8" height="127" rx="0" fill="#e3e4e6" stroke="none"/>
<line x1="602.2" y1="578.2" x2="765" y2="578.2" stroke="#1c1c1c" stroke-width="2.47" stroke-linecap="butt"/>
<line x1="602.2" y1="614.5" x2="765" y2="614.5" stroke="#1c1c1c" stroke-width="2.47" stroke-linecap="butt"/>
<line x1="602.2" y1="649.8" x2="765" y2="649.8" stroke="#1c1c1c" stroke-width="2.47" stroke-linecap="butt"/>
<line x1="661.2" y1="540" x2="661.2" y2="669.6" stroke="#1c1c1c" stroke-width="2.47" stroke-linecap="butt"/>
<rect x="661.9" y="554.9" width="39.4" height="18.5" rx="0" fill="#56564e" stroke="none"/>
<rect x="662.6" y="559.4" width="36.6" height="10.1" rx="0" fill="#f8de12" stroke="none"/>
<rect x="661.9" y="590" width="39.4" height="18.5" rx="0" fill="#56564e" stroke="none"/>
<rect x="662.6" y="594.5" width="36.6" height="10.1" rx="0" fill="#f8de12" stroke="none"/>
<rect x="661.9" y="626" width="39.4" height="18.5" rx="0" fill="#56564e" stroke="none"/>
<rect x="662.6" y="630.5" width="36.6" height="10.1" rx="0" fill="#f8de12" stroke="none"/>
<path d="M765.4 618.2 H877 Q880.6 618.2 880.6 621.8 V643 Q880.6 646.6 877 646.6 H765.4" fill="#e9e9eb" stroke="#1c1c1c" stroke-width="2.47" stroke-linejoin="miter" />
<path d="M765.4 619.4 H788 Q796 619.4 796 627.4 V637.4 Q796 645.4 788 645.4 H765.4" fill="#e6e7e9" stroke="#1c1c1c" stroke-width="3.12" stroke-linejoin="miter" />
<line x1="797.2" y1="618.8" x2="797.2" y2="646" stroke="#456" stroke-width="1.3" stroke-linecap="butt"/>
<rect x="797.8" y="624.8" width="66" height="15" rx="0" fill="#f6c094" stroke="#4a3424" stroke-width="1.69"/>
<rect x="811" y="624.8" width="3.8" height="15" rx="0" fill="#e9c8a6" stroke="#1f1a16" stroke-width="2.34"/>
<line x1="818" y1="635.8" x2="863" y2="635.8" stroke="#7a5030" stroke-width="1.3" stroke-linecap="butt"/>
<line x1="819" y1="628.4" x2="819" y2="632.4" stroke="#4a3424" stroke-width="1.56" stroke-linecap="butt"/>
<rect x="766" y="547" width="93.4" height="28.4" rx="0" fill="#e7e7e9" stroke="#1c1c1c" stroke-width="2.6"/>
<rect x="766" y="582" width="93.4" height="29" rx="0" fill="#e7e7e9" stroke="#1c1c1c" stroke-width="2.6"/>
<path d="M891 613 H865 Q861 613 861 609 V579.6 H891" fill="#e6e7e9" stroke="#1c1c1c" stroke-width="2.34" stroke-linejoin="miter" />
<line x1="861" y1="579.4" x2="891" y2="579.4" stroke="#1c1c1c" stroke-width="3.38" stroke-linecap="butt"/>
<line x1="861" y1="540" x2="861" y2="579.4" stroke="#1c1c1c" stroke-width="2.34" stroke-linecap="butt"/>
<line x1="765" y1="540" x2="765" y2="669.6" stroke="#1c1c1c" stroke-width="3.9" stroke-linecap="butt"/>
<line x1="602.2" y1="540" x2="602.2" y2="669.6" stroke="#1c1c1c" stroke-width="3.64" stroke-linecap="butt"/>
<line x1="891.8" y1="540" x2="891.8" y2="667" stroke="#1c1c1c" stroke-width="3.64" stroke-linecap="butt"/>
<line x1="600.8" y1="669.6" x2="667" y2="669.6" stroke="#1c1c1c" stroke-width="3.64" stroke-linecap="butt"/>
<line x1="765" y1="667" x2="893.2" y2="667" stroke="#1c1c1c" stroke-width="3.64" stroke-linecap="butt"/>
<line x1="667" y1="669" x2="765" y2="669" stroke="#1c1c1c" stroke-width="1.82" stroke-linecap="butt"/>
</g>
<path d="M600.6 559.2 C604.75 558.98 615.5 557.75 625.5 557.9 C635.5 558.05 650.43 559.08 660.6 560.1 C670.77 561.12 679.9 563.5 686.5 564 C693.1 564.5 692.58 563.5 700.2 563.1 C707.82 562.7 723.3 562.62 732.2 561.6 C741.1 560.58 748.25 557.77 753.6 557 C758.95 556.23 759.23 555.83 764.3 557 C769.37 558.17 776.63 563.33 784 564 C791.37 564.67 799.33 562.17 808.5 561 C817.67 559.83 830.37 557.82 839 557 C847.63 556.18 851.2 556.15 860.3 556.1 C869.4 556.05 888.05 556.6 893.6 556.7" fill="none" stroke="#2a2a2a" stroke-width="2.21" stroke-linejoin="miter" />
<line x1="603" y1="467.9" x2="742" y2="467.9" stroke="#1c1c1c" stroke-width="2.73" stroke-linecap="butt" stroke-dasharray="7.7 4.9"/>
<line x1="755.6" y1="467.9" x2="893" y2="467.9" stroke="#1c1c1c" stroke-width="2.47" stroke-linecap="butt" stroke-dasharray="7.7 4.9"/>
<line x1="603" y1="503.7" x2="742" y2="503.7" stroke="#1c1c1c" stroke-width="2.73" stroke-linecap="butt" stroke-dasharray="7.7 4.9"/>
<line x1="664" y1="632.4" x2="893" y2="632.4" stroke="#1c1c1c" stroke-width="2.47" stroke-linecap="butt" stroke-dasharray="7.7 4.9"/>
<line x1="718.4" y1="365.2" x2="718.4" y2="371" stroke="#1c1c1c" stroke-width="2.34" stroke-linecap="butt"/>
<line x1="718.4" y1="379" x2="718.4" y2="386" stroke="#1c1c1c" stroke-width="2.34" stroke-linecap="butt"/>
<line x1="718.4" y1="389.4" x2="718.4" y2="396.2" stroke="#1c1c1c" stroke-width="2.34" stroke-linecap="butt"/>
<line x1="718.4" y1="399.6" x2="718.4" y2="407" stroke="#1c1c1c" stroke-width="2.34" stroke-linecap="butt"/>
<line x1="718.4" y1="410" x2="718.4" y2="418" stroke="#1c1c1c" stroke-width="2.34" stroke-linecap="butt"/>
<line x1="703.6" y1="392.7" x2="710.8" y2="392.7" stroke="#1c1c1c" stroke-width="2.34" stroke-linecap="butt"/>
<line x1="714.6" y1="392.7" x2="722" y2="392.7" stroke="#1c1c1c" stroke-width="2.34" stroke-linecap="butt"/>
<line x1="726" y1="392.7" x2="733.6" y2="392.7" stroke="#1c1c1c" stroke-width="2.34" stroke-linecap="butt"/>
<line x1="718.4" y1="683" x2="718.4" y2="690" stroke="#1c1c1c" stroke-width="2.47" stroke-linecap="butt"/>
<line x1="718.4" y1="695" x2="718.4" y2="702" stroke="#1c1c1c" stroke-width="2.47" stroke-linecap="butt"/>
<line x1="718.4" y1="706" x2="718.4" y2="712.3" stroke="#1c1c1c" stroke-width="2.47" stroke-linecap="butt"/>
<line x1="718.4" y1="716" x2="718.4" y2="726.6" stroke="#1c1c1c" stroke-width="2.47" stroke-linecap="butt"/>
<line x1="704" y1="709.5" x2="710" y2="709.5" stroke="#1c1c1c" stroke-width="2.47" stroke-linecap="butt"/>
<line x1="715" y1="709.5" x2="722" y2="709.5" stroke="#1c1c1c" stroke-width="2.47" stroke-linecap="butt"/>
<line x1="727" y1="709.5" x2="734" y2="709.5" stroke="#1c1c1c" stroke-width="2.47" stroke-linecap="butt"/>
<line x1="739" y1="709.5" x2="746.3" y2="709.5" stroke="#1c1c1c" stroke-width="2.47" stroke-linecap="butt"/>
<line x1="702.3" y1="328.3" x2="702.3" y2="375.6" stroke="#1c1c1c" stroke-width="2.21" stroke-linecap="butt"/>
<line x1="734.6" y1="328.3" x2="734.6" y2="375.6" stroke="#1c1c1c" stroke-width="2.21" stroke-linecap="butt"/>
<line x1="636.9" y1="338" x2="684" y2="338" stroke="#1c1c1c" stroke-width="2.21" stroke-linecap="butt"/>
<polygon points="700.6,338 681.1,332.5 681.1,343.5" fill="#1c1c1c"/>
<line x1="752" y1="338" x2="766.4" y2="338" stroke="#1c1c1c" stroke-width="2.21" stroke-linecap="butt"/>
<polygon points="736.6,338 756.1,332.5 756.1,343.5" fill="#1c1c1c"/>
<text x="659.9" y="332.2" font-size="28.5" text-anchor="middle" textLength="39" lengthAdjust="spacingAndGlyphs">2,5</text>
<line x1="737" y1="375.7" x2="876.2" y2="375.7" stroke="#1c1c1c" stroke-width="2.21" stroke-linecap="butt"/>
<line x1="738.8" y1="393" x2="824.9" y2="393" stroke="#1c1c1c" stroke-width="2.21" stroke-linecap="butt"/>
<line x1="737" y1="412.5" x2="876.2" y2="412.5" stroke="#1c1c1c" stroke-width="2.21" stroke-linecap="butt"/>
<line x1="817.7" y1="327" x2="817.7" y2="360" stroke="#1c1c1c" stroke-width="2.21" stroke-linecap="butt"/>
<polygon points="817.7,374.4 812.2,354.9 823.2,354.9" fill="#1c1c1c"/>
<polygon points="817.7,395 811.7,408.8 823.7,408.8" fill="#1c1c1c"/>
<line x1="869.5" y1="327" x2="869.5" y2="360" stroke="#1c1c1c" stroke-width="2.21" stroke-linecap="butt"/>
<polygon points="869.5,374.4 864,354.9 875,354.9" fill="#1c1c1c"/>
<polygon points="869.5,414.4 863.6,426 875.4,426" fill="#1c1c1c"/>
<text x="810.5" y="334.2" font-size="30" text-anchor="middle" transform="rotate(-90 810.5 334.2)" textLength="35" lengthAdjust="spacingAndGlyphs">1,3</text>
<text x="860.9" y="329.7" font-size="30" text-anchor="middle" transform="rotate(-90 860.9 329.7)" textLength="53" lengthAdjust="spacingAndGlyphs">2,75</text>
<line x1="894" y1="433.6" x2="973.4" y2="433.6" stroke="#1c1c1c" stroke-width="2.21" stroke-linecap="butt"/>
<line x1="894" y1="467.4" x2="937.6" y2="467.4" stroke="#1c1c1c" stroke-width="2.21" stroke-linecap="butt"/>
<line x1="931.6" y1="384.6" x2="931.6" y2="416" stroke="#1c1c1c" stroke-width="2.21" stroke-linecap="butt"/>
<polygon points="931.6,431.8 926.1,412.3 937.1,412.3" fill="#1c1c1c"/>
<line x1="931.6" y1="484" x2="931.6" y2="503" stroke="#1c1c1c" stroke-width="2.21" stroke-linecap="butt"/>
<polygon points="931.6,468.6 926.1,488.1 937.1,488.1" fill="#1c1c1c"/>
<text x="923.9" y="395.4" font-size="30" text-anchor="middle" transform="rotate(-90 923.9 395.4)" textLength="33" lengthAdjust="spacingAndGlyphs">3,1</text>
<line x1="966.6" y1="451" x2="966.6" y2="532.6" stroke="#1c1c1c" stroke-width="2.21" stroke-linecap="butt"/>
<polygon points="966.6,434.8 961.1,454.3 972.1,454.3" fill="#1c1c1c"/>
<line x1="966.6" y1="569.6" x2="966.6" y2="650" stroke="#1c1c1c" stroke-width="2.21" stroke-linecap="butt"/>
<polygon points="966.8,665.6 961.3,646.1 972.3,646.1" fill="#1c1c1c"/>
<text x="980" y="562" font-size="39" text-anchor="start" transform="rotate(-90 980 562)" textLength="11.3" lengthAdjust="spacingAndGlyphs" stroke="#1c1c1c" stroke-width="0.9">L</text>
<text x="988.1" y="538.6" font-size="23" text-anchor="middle" transform="rotate(-90 988.1 538.6)" textLength="12.6" lengthAdjust="spacingAndGlyphs">3</text>
<line x1="894" y1="666.9" x2="974" y2="666.9" stroke="#1c1c1c" stroke-width="2.21" stroke-linecap="butt"/>
<line x1="893" y1="632" x2="938.3" y2="632" stroke="#1c1c1c" stroke-width="2.21" stroke-linecap="butt"/>
<line x1="930.6" y1="573.9" x2="930.6" y2="614" stroke="#1c1c1c" stroke-width="2.21" stroke-linecap="butt"/>
<polygon points="930.6,630.6 925.1,611.1 936.1,611.1" fill="#1c1c1c"/>
<line x1="930.8" y1="684" x2="930.8" y2="702.1" stroke="#1c1c1c" stroke-width="2.21" stroke-linecap="butt"/>
<polygon points="930.8,668.4 925.3,687.9 936.3,687.9" fill="#1c1c1c"/>
<text x="924" y="591.2" font-size="30" text-anchor="middle" transform="rotate(-90 924 591.2)" textLength="38.3" lengthAdjust="spacingAndGlyphs">2,8</text>
<line x1="524" y1="468.2" x2="602" y2="468.2" stroke="#1c1c1c" stroke-width="2.21" stroke-linecap="butt"/>
<line x1="524" y1="504" x2="602" y2="504" stroke="#1c1c1c" stroke-width="2.21" stroke-linecap="butt"/>
<line x1="529.4" y1="420.2" x2="529.4" y2="452" stroke="#1c1c1c" stroke-width="2.21" stroke-linecap="butt"/>
<polygon points="529.4,467 523.9,447.5 534.9,447.5" fill="#1c1c1c"/>
<line x1="529.4" y1="522" x2="529.4" y2="544" stroke="#1c1c1c" stroke-width="2.21" stroke-linecap="butt"/>
<polygon points="529.4,505.2 523.9,524.7 534.9,524.7" fill="#1c1c1c"/>
<polygon points="529.4,577 523.9,557.5 534.9,557.5" fill="#1c1c1c"/>
<text x="519.5" y="422.8" font-size="30" text-anchor="middle" transform="rotate(-90 519.5 422.8)" textLength="42" lengthAdjust="spacingAndGlyphs">3,5</text>
<line x1="524" y1="578.2" x2="602" y2="578.2" stroke="#1c1c1c" stroke-width="2.21" stroke-linecap="butt"/>
<line x1="524" y1="614.2" x2="602" y2="614.2" stroke="#1c1c1c" stroke-width="2.21" stroke-linecap="butt"/>
<line x1="557.2" y1="649.6" x2="602" y2="649.6" stroke="#1c1c1c" stroke-width="2.21" stroke-linecap="butt"/>
<line x1="557.2" y1="669.7" x2="602" y2="669.7" stroke="#1c1c1c" stroke-width="2.21" stroke-linecap="butt"/>
<line x1="529.5" y1="632" x2="529.5" y2="673" stroke="#1c1c1c" stroke-width="2.21" stroke-linecap="butt"/>
<polygon points="529.5,615.6 524,635.1 535,635.1" fill="#1c1c1c"/>
<line x1="565.5" y1="618.3" x2="565.5" y2="632" stroke="#1c1c1c" stroke-width="2.21" stroke-linecap="butt"/>
<polygon points="565.5,648.4 560,628.9 571,628.9" fill="#1c1c1c"/>
<line x1="567.5" y1="687" x2="567.5" y2="720.3" stroke="#1c1c1c" stroke-width="2.21" stroke-linecap="butt"/>
<polygon points="567.5,671.2 562,690.7 573,690.7" fill="#1c1c1c"/>
<text x="521.5" y="653.6" font-size="30" text-anchor="middle" transform="rotate(-90 521.5 653.6)" textLength="39.8" lengthAdjust="spacingAndGlyphs">3,5</text>
<text x="557.2" y="705.9" font-size="30" text-anchor="middle" transform="rotate(-90 557.2 705.9)" textLength="33.2" lengthAdjust="spacingAndGlyphs">1,5</text>
</g>
</svg>
</body></html>
